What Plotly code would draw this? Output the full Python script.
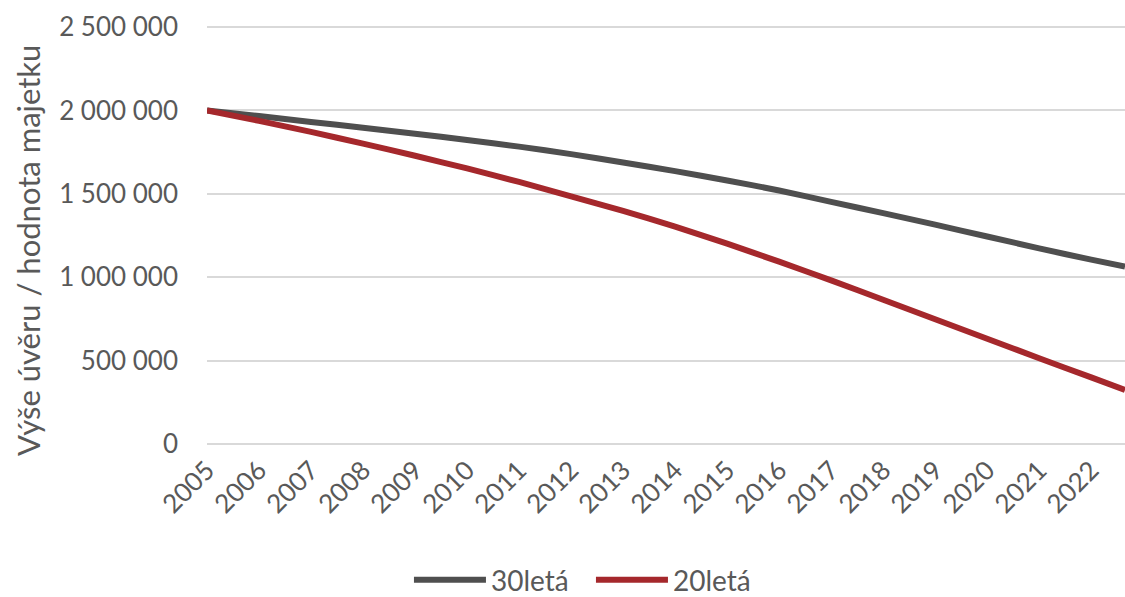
import plotly.graph_objects as go

# Data
years = [2005, 2006, 2007, 2008, 2009, 2010, 2011, 2012, 2013, 2014,
         2015, 2016, 2017, 2018, 2019, 2020, 2021, 2022, 2022.65]
loan_30 = [2000000, 1966000, 1931000, 1896000, 1860000, 1823000, 1783000,
           1738000, 1688000, 1636000, 1580000, 1520000, 1452000, 1384000,
           1315000, 1244000, 1173000, 1105000, 1064000]
loan_20 = [2000000, 1937000, 1871000, 1801000, 1728000, 1652000, 1571000,
           1485000, 1397000, 1303000, 1201000, 1093000, 981000, 865000,
           748000, 631000, 514000, 399000, 324000]

series_names = ["30letá", "20letá"]
x_tick_values = list(range(2005, 2023))
x_tick_labels = [str(y) for y in x_tick_values]
y_tick_values = [0, 500000, 1000000, 1500000, 2000000, 2500000]
y_tick_labels = ["0", "500 000", "1 000 000", "1 500 000", "2 000 000", "2 500 000"]
y_title = "Výše úvěru / hodnota majetku"

FONT = "Lato"
TXT = "#595959"

fig = go.Figure()
fig.add_trace(go.Scatter(x=years, y=loan_30, mode="lines", name=series_names[0],
                         line=dict(color="#4f4f4f", width=6, shape="spline", smoothing=0.6)))
fig.add_trace(go.Scatter(x=years, y=loan_20, mode="lines", name=series_names[1],
                         line=dict(color="#a5282c", width=6, shape="spline", smoothing=0.6)))

fig.update_layout(
    width=1125, height=597,
    margin=dict(l=207, r=0, t=22, b=148, autoexpand=False),
    paper_bgcolor="white", plot_bgcolor="white",
    font=dict(family=FONT, size=26, color=TXT),
    showlegend=True,
    legend=dict(orientation="h", x=0.22, xanchor="left", y=-0.307, yanchor="middle",
                font=dict(family=FONT, size=28, color=TXT), itemwidth=72,
                entrywidth=95, bgcolor="rgba(0,0,0,0)"),
    xaxis=dict(range=[2005, 2022.65], tickmode="array", tickvals=x_tick_values,
               ticktext=x_tick_labels, tickangle=-45, showgrid=False, zeroline=False,
               showline=False, ticks="", tickfont=dict(family=FONT, size=26, color=TXT),
               automargin=False),
    yaxis=dict(range=[-30000, 2530000], tickmode="array", tickvals=y_tick_values,
               ticktext=y_tick_labels, showgrid=True, gridcolor="#d9d9d9", gridwidth=2,
               zeroline=False, showline=False, ticks="", ticklabelstandoff=28,
               tickfont=dict(family=FONT, size=26, color=TXT), automargin=False),
    annotations=[dict(text=y_title, xref="paper", yref="paper", x=-0.195, y=0.466,
                      xanchor="center", yanchor="middle", textangle=-90, showarrow=False,
                      font=dict(family=FONT, size=31, color=TXT))],
)

fig.write_html("out.html", config={"displayModeBar": False},
               post_script="document.body.style.margin='0';document.body.style.overflow='hidden';")
